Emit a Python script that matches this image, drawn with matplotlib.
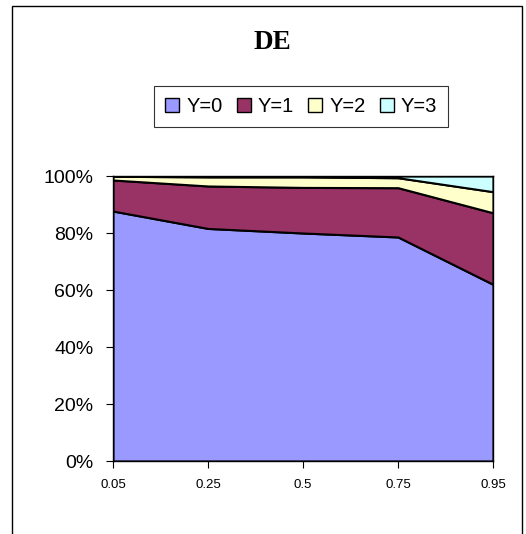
import numpy as np
import matplotlib
matplotlib.use("Agg")
import matplotlib.pyplot as plt
from matplotlib.patches import Rectangle
from matplotlib.ticker import PercentFormatter

# data (shares, stacked to 100%)
x_labels = ["0.05", "0.25", "0.5", "0.75", "0.95"]
y0 = [0.877, 0.816, 0.800, 0.786, 0.620]
y1 = [0.109, 0.149, 0.160, 0.173, 0.251]
y2 = [0.013, 0.032, 0.037, 0.035, 0.074]
y3 = [0.001, 0.003, 0.003, 0.006, 0.055]
names = ["Y=0", "Y=1", "Y=2", "Y=3"]
colors = ["#9999FF", "#993366", "#FFFFCC", "#CCFFFF"]

plt.rcParams['font.family'] = ['Liberation Sans', 'DejaVu Sans']

fig = plt.figure(figsize=(5.26, 5.34), dpi=100)
ax = fig.add_axes([0.2148, 0.1367, 0.7225, 0.5337])

x = np.arange(len(x_labels))
polys = ax.stackplot(x, y0, y1, y2, y3, colors=colors, labels=names,
                     edgecolor="black", linewidth=1.5)

ax.set_xlim(0, len(x_labels) - 1)
ax.set_ylim(0, 1)
ax.set_xticks(x)
ax.set_xticklabels(x_labels, fontsize=9.5)
ax.set_yticks(np.arange(0, 1.01, 0.2))
ax.yaxis.set_major_formatter(PercentFormatter(1.0, decimals=0))
ax.tick_params(axis="y", labelsize=14, direction="out", length=5, pad=9)
ax.tick_params(axis="x", direction="out", length=5, pad=8)
for s in ax.spines.values():
    s.set_color("black")
    s.set_linewidth(1.0)

fig.text(0.517, 0.921, "DE", ha="center", va="center", fontsize=19.5,
         fontweight="bold", family="Liberation Serif")

leg = ax.legend(loc="center", bbox_to_anchor=(0.573, 0.80),
                bbox_transform=fig.transFigure, ncol=4, fontsize=14.5,
                frameon=True, fancybox=False, handlelength=0.7,
                handleheight=0.7, handletextpad=0.35, columnspacing=0.7,
                borderpad=0.55)
leg.get_frame().set_edgecolor("black")
leg.get_frame().set_linewidth(0.8)
for h in leg.legend_handles:
    h.set_edgecolor("black")
    h.set_linewidth(1.0)

# outer chart frame
frame = Rectangle((0.0228, -0.05), 0.969, 1.0388, transform=fig.transFigure,
                  fill=False, edgecolor="black", linewidth=1.0, clip_on=False)
fig.patches.append(frame)

fig.savefig("out.png", dpi=100)
